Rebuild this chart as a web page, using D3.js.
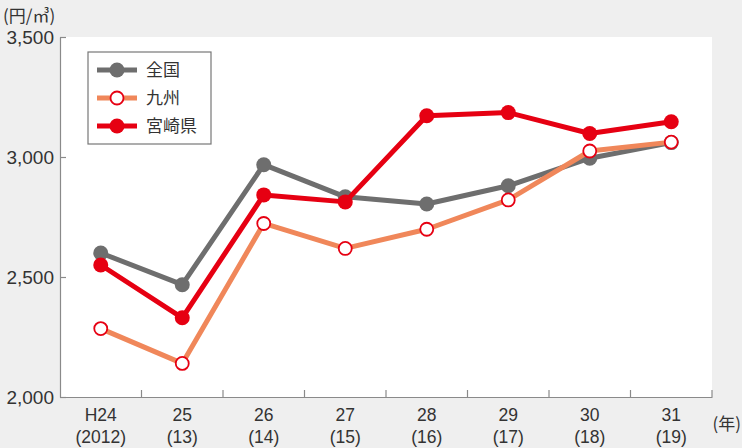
<!DOCTYPE html>
<html><head><meta charset="utf-8">
<script src="https://cdn.jsdelivr.net/npm/d3@7"></script>
<style>
html,body{margin:0;padding:0;background:#efefef;}
svg{display:block;}
text{font-family:"Liberation Sans","Noto Sans CJK JP",sans-serif;fill:#333;}
.jp{font-family:"Noto Sans CJK JP",sans-serif;}
</style></head>
<body><svg id="c" width="742" height="448"></svg>
<script>
const categories = ["H24","25","26","27","28","29","30","31"];
const subLabels = ["(2012)","(13)","(14)","(15)","(16)","(17)","(18)","(19)"];
const zenkoku = [2600,2468,2968,2834,2804,2880,2995,3060];
const kyushu  = [2285,2140,2723,2619,2699,2821,3025,3062];
const miyazaki= [2550,2330,2842,2813,3172,3185,3098,3147];
const yTicks = [2000,2500,3000,3500];
const seriesNames = ["全国","九州","宮崎県"];

const svg = d3.select("#c");
const L=60,R=712,T=37,B=397;
const x = d3.scaleBand().domain(categories).range([L,R]).padding(0);
const y = d3.scaleLinear().domain([2000,3500]).range([B,T]);
const axisColor="#8a8a8a";

svg.append("rect").attr("x",L).attr("y",T).attr("width",R-L).attr("height",B-T).attr("fill","#fff");

// y axis
const ya = svg.append("g").attr("transform",`translate(${L},0)`)
  .call(d3.axisLeft(y).tickValues(yTicks).tickSizeInner(-6).tickSizeOuter(0).tickPadding(12).tickFormat(d3.format(",")));
ya.select(".domain").attr("stroke",axisColor).attr("stroke-width",1.2);
ya.selectAll(".tick line").attr("stroke",axisColor).attr("stroke-width",1.2);
ya.selectAll(".tick text").attr("font-size",19).attr("fill","#333").attr("x",-6).attr("dy","0.35em");

// x axis
const xa = svg.append("g").attr("transform",`translate(0,${B})`)
  .call(d3.axisBottom(x).tickSize(0).tickFormat(""));
xa.select(".domain").attr("stroke",axisColor).attr("stroke-width",1.2);
const edges = categories.map(c=>x(c)+x.bandwidth());
xa.selectAll("line.sep").data(edges).join("line").attr("class","sep")
  .attr("x1",d=>d).attr("x2",d=>d).attr("y1",0).attr("y2",-7)
  .attr("stroke",axisColor).attr("stroke-width",1.2);
svg.append("g").selectAll("text").data(categories).join("text")
  .attr("x",d=>x(d)+x.bandwidth()/2).attr("y",421).attr("text-anchor","middle")
  .attr("font-size",17.5).text(d=>d);
svg.append("g").selectAll("text").data(subLabels).join("text")
  .attr("x",(d,i)=>x(categories[i])+x.bandwidth()/2).attr("y",443).attr("text-anchor","middle")
  .attr("font-size",17.5).text(d=>d);
svg.append("text").attr("class","jp").attr("x",741).attr("y",430).attr("text-anchor","end")
  .attr("font-size",17).text("(年)");
svg.append("text").attr("class","jp").attr("x",3).attr("y",22).attr("font-size",17).text("(円/㎥)");

const line = d3.line().x((d,i)=>x(categories[i])+x.bandwidth()/2).y(d=>y(d));
const cx = (d,i)=>x(categories[i])+x.bandwidth()/2;

const series = [
  {name:seriesNames[0], data:zenkoku, line:"#6e6e6e", fill:"#6e6e6e", stroke:"#6e6e6e"},
  {name:seriesNames[1], data:kyushu, line:"#f0875a", fill:"#fff", stroke:"#e60012"},
  {name:seriesNames[2], data:miyazaki, line:"#e60012", fill:"#e60012", stroke:"#e60012"}
];
series.forEach(s=>{
  svg.append("path").datum(s.data).attr("d",line).attr("fill","none")
    .attr("stroke",s.line).attr("stroke-width",5).attr("stroke-linejoin","round");
  svg.append("g").selectAll("circle").data(s.data).join("circle")
    .attr("cx",cx).attr("cy",d=>y(d)).attr("r",s.fill==="#fff"?6.5:7.5)
    .attr("fill",s.fill).attr("stroke",s.stroke).attr("stroke-width",s.fill==="#fff"?1.8:0);
});

// legend
const lg = svg.append("g");
lg.append("rect").attr("x",88).attr("y",52).attr("width",123).attr("height",92)
  .attr("fill","#fff").attr("stroke","#777").attr("stroke-width",1.2);
series.forEach((s,i)=>{
  const yy = 70 + i*28;
  lg.append("line").attr("x1",97).attr("x2",137).attr("y1",yy).attr("y2",yy)
    .attr("stroke",s.line).attr("stroke-width",5);
  lg.append("circle").attr("cx",117).attr("cy",yy).attr("r",s.fill==="#fff"?6.5:7.5)
    .attr("fill",s.fill).attr("stroke",s.stroke).attr("stroke-width",s.fill==="#fff"?1.8:0);
  lg.append("text").attr("class","jp").attr("x",146).attr("y",yy).attr("dy","0.36em")
    .attr("font-size",17).text(s.name);
});
</script></body></html>
